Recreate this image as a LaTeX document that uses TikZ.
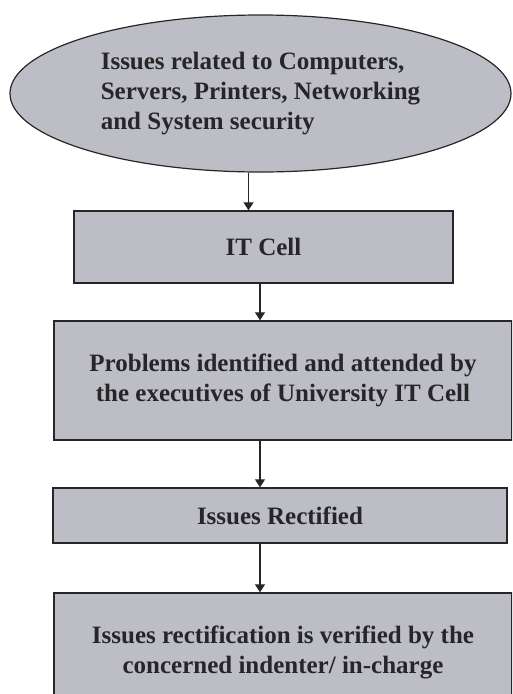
\documentclass[tikz,border=0pt]{standalone}
\usepackage{fontspec}
\setmainfont{Liberation Serif}
\usetikzlibrary{shapes.geometric,arrows.meta}
\definecolor{cellgray}{RGB}{189,190,197}
\definecolor{inkgray}{RGB}{38,38,40}
\begin{document}
\begin{tikzpicture}[x=1pt,y=-1pt,
	  box/.style={rectangle,draw=inkgray,fill=cellgray,line width=1.4pt,inner sep=0pt,
	    font=\fontsize{25}{30}\selectfont\bfseries,text=inkgray,align=center},
	  issue node/.style={box,ellipse,line width=1.2pt,align=left},
	  flow/.style={draw=inkgray,line width=1.2pt,-{Triangle[width=10pt,length=8pt]}}]

	  \useasboundingbox (0,0) rectangle (512,694);
	  \clip (0,0) rectangle (512,694);

	  \node[issue node,minimum width=501pt,minimum height=157pt] (1) at (260.5,93.5)
	    {Issues related to Computers,\\Servers, Printers, Networking\\and System security};
	  \node[box,minimum width=379pt,minimum height=72pt] (2) at (263.5,247) {IT Cell};
	  \node[box,minimum width=458pt,minimum height=119pt] (3) at (283,380.5)
	    {Problems identified and attended by\\the executives of University IT Cell};
	  \node[box,minimum width=454pt,minimum height=55pt] (4) at (280,515.5) {Issues Rectified};
	  \node[box,minimum width=458pt,minimum height=118pt] (5) at (283,652)
	    {Issues rectification is verified by the\\concerned indenter/ in-charge};

	  \coordinate (col) at (260,0);
	  \draw[flow] ([xshift=-12pt]1.south) -- ([xshift=-12pt]1.south |- 2.north);
	  \draw[flow] (2.south -| col) -- (3.north -| col);
	  \draw[flow] (3.south -| col) -- (4.north -| col);
	  \draw[flow] (4.south -| col) -- (5.north -| col);

\end{tikzpicture}
\end{document}
